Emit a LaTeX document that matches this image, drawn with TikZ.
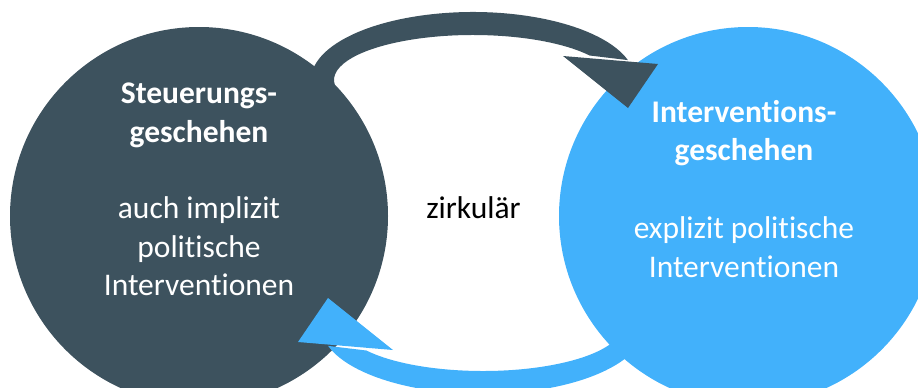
\documentclass[tikz,border=0pt]{standalone}
\usepackage{fontspec}
\setmainfont{Carlito}[Ligatures=NoCommon]
\definecolor{darkslate}{HTML}{3D525E}
\definecolor{skyblue}{HTML}{42B1FB}
\begin{document}
\begin{tikzpicture}[x=1pt,y=1pt,
  txt/.style={font=\fontsize{31.5}{38.5}\selectfont, text=white, anchor=base, inner sep=0pt},
  ttl/.style={txt, font=\fontsize{31.5}{38.5}\selectfont\bfseries},
  bubble/.style={circle, minimum size=378pt, inner sep=0pt}]
\useasboundingbox (0,0) rectangle (918,-388);
\clip (0,0) rectangle (918,-388);
% circles
\node[bubble, fill=darkslate] (steuer) at (199,-216) {};
\node[bubble, fill=skyblue] (interv) at (748,-216) {};
\coordinate (tc) at (473,-80);
\coordinate (bc) at (483,-326);
% top arrow (dark)
\fill[darkslate] (tc) ++(195:162 and 68)
  arc[start angle=195, end angle=17, x radius=162, y radius=68]
  -- ([shift={(33:139 and 45)}]tc)
  arc[start angle=33, end angle=195, x radius=139, y radius=45] -- cycle;
\fill[darkslate] (563,-56) -- (658,-64) -- (628,-108) -- cycle;
% bottom arrow (light)
\fill[skyblue] (bc) ++(15:162 and 68)
  arc[start angle=15, end angle=-163, x radius=162, y radius=68]
  -- ([shift={(-147:139 and 45)}]bc)
  arc[start angle=-147, end angle=15, x radius=139, y radius=45] -- cycle;
\fill[skyblue] (393,-350) -- (298,-342) -- (328,-298) -- cycle;
% texts left
\node[ttl] (l1) at (199,-103) {Steuerungs-};
\node[ttl] (l2) at (199,-142) {geschehen};
\node[txt] (l3) at (199,-218) {auch implizit};
\node[txt] (l4) at (199,-257) {politische};
\node[txt] (l5) at (199,-295) {Interventionen};
% texts right
\node[ttl] (r1) at (744,-122) {Interventions-};
\node[ttl] (r2) at (744,-160) {geschehen};
\node[txt] (r3) at (744,-238) {explizit politische};
\node[txt] (r4) at (744,-277) {Interventionen};
% centre
\node[txt, text=black] (mid) at (473.5,-218) {zirkulär};
\end{tikzpicture}
\end{document}
